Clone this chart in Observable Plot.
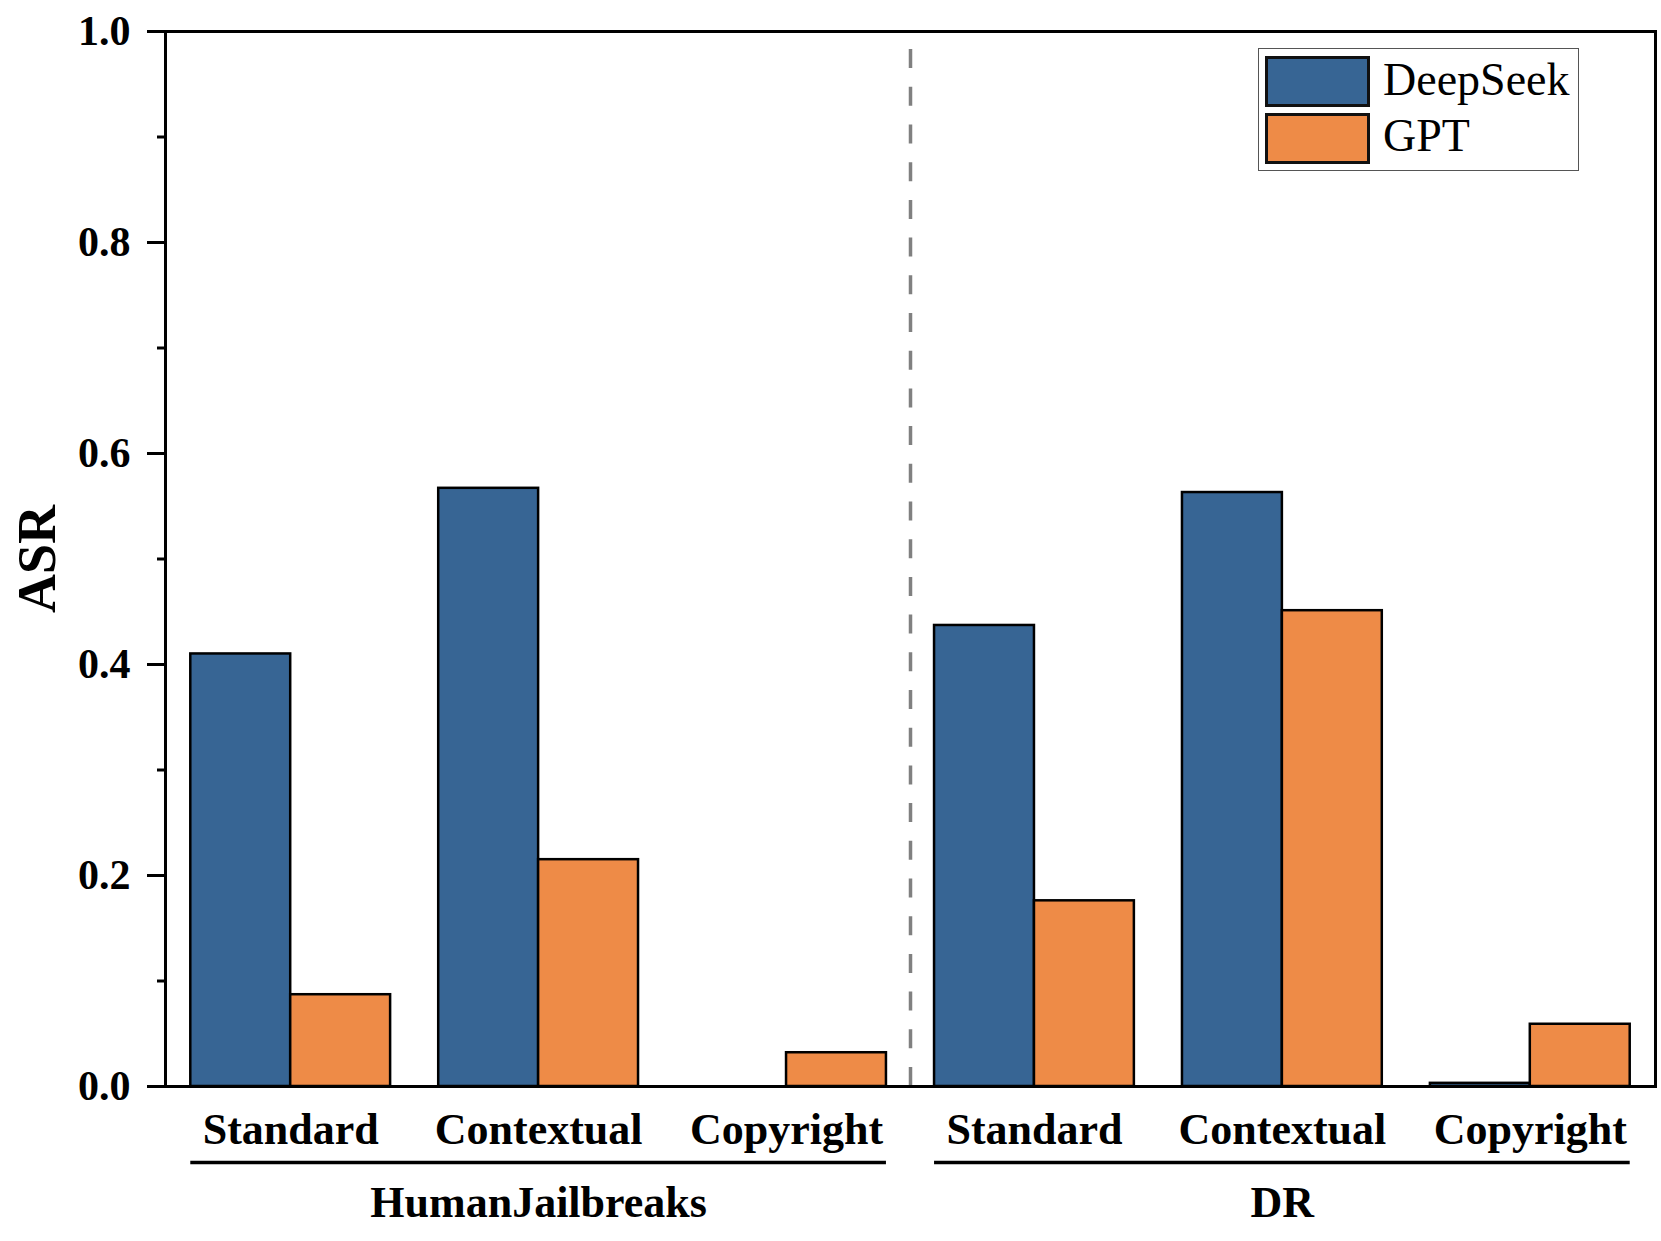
<!DOCTYPE html>
<html>
<head>
<meta charset="utf-8">
<script src="https://cdn.jsdelivr.net/npm/d3@7"></script>
<script src="https://cdn.jsdelivr.net/npm/@observablehq/plot@0.6"></script>
<style>
  body { margin: 0; background: #fff; }
  #wrap { position: relative; width: 1661px; height: 1241px; }
  #legend { position: absolute; left: 1258px; top: 48px; width: 321px; height: 123px;
    box-sizing: border-box; border: 1.5px solid #555; background: #fff;
    font-family: "Liberation Serif", "Times New Roman", serif; font-size: 46px; color: #000; }
  .sw { position: absolute; left: 6px; width: 105px; height: 51px; box-sizing: border-box; border: 3px solid #111; }
  .lb { position: absolute; left: 124px; line-height: 1; }
</style>
</head>
<body>
<div id="wrap"></div>
<script>
// ---- data ----
const groups = ["HumanJailbreaks", "DR"];
const categories = ["Standard", "Contextual", "Copyright"];
const series = ["DeepSeek", "GPT"];
const deepseek = [0.410, 0.567, 0.000, 0.437, 0.563, 0.003];
const gpt = [0.087, 0.215, 0.032, 0.176, 0.451, 0.059];
const colors = ["#376594", "#EE8B47"];
const yTicks = [0, 0.2, 0.4, 0.6, 0.8, 1.0];
const yMinorTicks = [0.1, 0.3, 0.5, 0.7, 0.9];
const yLabel = "ASR";

// ---- table ----
const rows = [];
groups.forEach((g, gi) => categories.forEach((c, ci) => rows.push({g, c, i: gi * categories.length + ci})));
const data = [];
rows.forEach((r, k) => {
  data.push({...r, series: series[0], value: deepseek[k]});
  data.push({...r, series: series[1], value: gpt[k]});
});
const HALF = 0.403; // bar width in category steps
const n = categories.length;
const font = '"Liberation Serif", "Times New Roman", serif';

const plot = Plot.plot({
  width: 1661,
  height: 1241,
  marginLeft: 165,
  marginRight: 6,
  marginTop: 31,
  marginBottom: 155,
  style: {fontFamily: font, background: "#fff", color: "#000", overflow: "visible"},
  x: {domain: [-0.505, rows.length - 0.495]},
  y: {domain: [0, 1]},
  color: {domain: series, range: colors},
  marks: [
    Plot.rect(data, {
      x1: d => d.series === series[0] ? d.i - HALF : d.i,
      x2: d => d.series === series[0] ? d.i : d.i + HALF,
      y1: () => 0,
      y2: "value",
      fill: "series",
      stroke: "#000",
      strokeWidth: 2.5
    }),
    Plot.ruleX(groups.slice(1).map((g, k) => (k + 1) * n - 0.5), {
      y1: () => 0, y2: () => 1, stroke: "#808080", strokeWidth: 3.5, strokeDasharray: "19,18.7"
    }),
    Plot.frame({stroke: "#000", strokeWidth: 3}),
    Plot.axisY({ticks: yTicks, tickSize: 18, tickPadding: 17, tickFormat: d3.format(".1f"),
      strokeWidth: 3, fontSize: 42, fontWeight: "bold", label: null}),
    Plot.axisY({ticks: yMinorTicks, tickSize: 8, tickFormat: () => "", strokeWidth: 3, label: null}),
    Plot.axisX({ticks: rows.map(r => r.i), tickFormat: i => rows[i].c, tickSize: 0, tickPadding: 26,
      fontSize: 44, fontWeight: "bold", label: null}),
    Plot.ruleY(groups, {
      y: () => 0,
      x1: (g, gi) => gi * n - HALF,
      x2: (g, gi) => gi * n + n - 1 + HALF,
      dy: 76, stroke: "#000", strokeWidth: 3.5
    }),
    Plot.text(groups, {
      x: (g, gi) => gi * n + (n - 1) / 2,
      y: () => 0,
      text: g => g,
      dy: 130, lineAnchor: "bottom", fontSize: 44, fontWeight: "bold", fill: "#000"
    }),
    Plot.text([yLabel], {
      frameAnchor: "left", text: d => d, rotate: -90, dx: -128,
      textAnchor: "middle", lineAnchor: "middle",
      fontSize: 54, fontWeight: "bold", fill: "#000"
    })
  ]
});

const wrap = document.getElementById("wrap");
wrap.appendChild(plot);

// ---- legend (inside plot frame, top right) ----
const legend = d3.select(wrap).append("div").attr("id", "legend");
series.forEach((s, k) => {
  legend.append("div").attr("class", "sw")
    .style("top", (7 + k * 57) + "px")
    .style("background", colors[k]);
  legend.append("div").attr("class", "lb")
    .style("top", (8 + k * 56) + "px")
    .text(s);
});
</script>
</body>
</html>
